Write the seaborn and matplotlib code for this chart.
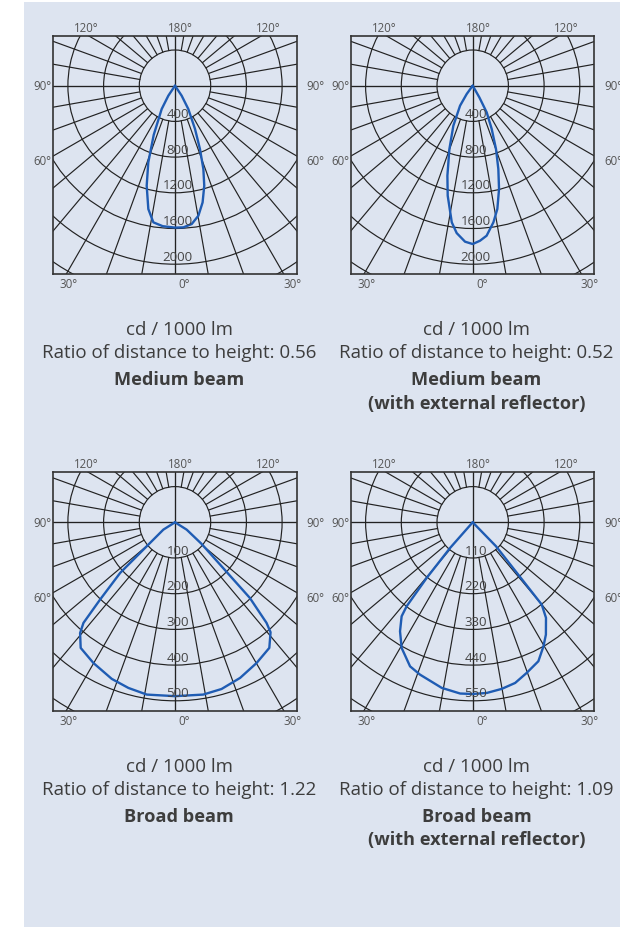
import numpy as np
import pandas as pd
import matplotlib
matplotlib.use("Agg")
import matplotlib.pyplot as plt
import seaborn as sns
from matplotlib.patches import Circle, Rectangle

sns.set_theme(style="white")
plt.rcParams['font.family'] = ['Open Sans', 'DejaVu Sans']

# ---------------- data ----------------
titles = ["Medium beam", "Medium beam\n(with external reflector)",
          "Broad beam", "Broad beam\n(with external reflector)"]
ratios = ["0.56", "0.52", "1.22", "1.09"]
ring_steps = [400, 400, 100, 110]
ring_labels = [["400", "800", "1200", "1600", "2000"],
               ["400", "800", "1200", "1600", "2000"],
               ["100", "200", "300", "400", "500"],
               ["110", "220", "330", "440", "550"]]
unit_label = "cd / 1000 lm"
angle_labels_top = ["120°", "180°", "120°"]
angle_labels_side = ["90°", "60°"]
angle_labels_bottom = ["30°", "0°", "30°"]

# angle from nadir (deg, + to the right) and luminous intensity (cd/1000 lm)
medium_angle = [-36, -33.7, -29.7, -23.4, -19.2, -15.8, -12.2, -9, -5, 0, 3.4, 6.9,
                10.2, 13.3, 16.3, 18.8, 21.5, 24.8, 29.7, 33.7, 36]
medium_cd = [0, 134, 301, 600, 910, 1165, 1414, 1550, 1580, 1590, 1590, 1561,
             1480, 1344, 1168, 986, 763, 535, 301, 134, 0]

medium_refl_angle = [-38, -35.8, -32.3, -25.8, -20.2, -15.7, -12.8, -8.7, -6.2, -2.8, 0,
                     2.7, 5.3, 8.6, 11.3, 14.3, 17.1, 20.2, 23.7, 27.7, 29.7, 32]
medium_refl_cd = [0, 115, 265, 498, 756, 1048, 1264, 1549, 1661, 1750, 1774,
                  1739, 1688, 1549, 1409, 1195, 977, 756, 530, 338, 150, 0]

broad_angle = [-60, -57.8, -49.7, -47.3, -44.1, -42.3, -40.6, -36.9, -30.1, -22, -15.7,
               -9.3, 0, 9.3, 15.6, 22.7, 30.1, 36.9, 41.0, 42.3, 44.7, 50.9, 57.8, 60]
broad_cd = [0, 38.6, 104, 209, 302, 381, 408.5, 440, 455.6, 473, 482,
            489, 487, 489, 484.8, 472.5, 455.6, 440, 408, 381, 298, 96, 38.6, 0]

broad_refl_angle = [-46, -41.4, -39.6, -38.2, -37.1, -33.7, -29.5, -23.5, -19.1, -10.6,
                    -4.2, 0, 4.7, 9.9, 14.8, 19.7, 25.3, 29.7, 33.1, 37.5, 40, 44.2, 46]
broad_refl_cd = [0, 105.5, 222.5, 329, 363, 403.6, 444.7, 484, 496.6, 519,
                 529, 529, 527.6, 521, 512, 493, 473.5, 440, 413, 371, 331, 103, 0]

curves = [(medium_angle, medium_cd), (medium_refl_angle, medium_refl_cd),
          (broad_angle, broad_cd), (broad_refl_angle, broad_refl_cd)]

# ---------------- layout ----------------
W, H = 620, 928
PX = 35.7                     # pixels per ring
fig = plt.figure(figsize=(W / 100, H / 100), dpi=100, facecolor="white")
fig.patches.append(Rectangle((24 / W, 0), 1, 1 - 3 / H, transform=fig.transFigure,
                             facecolor="#dde4f0", edgecolor="none", zorder=-10))

panel_pos = [(53.3, 36.7), (351.0, 36.7), (53.3, 473.3), (351.0, 473.3)]
AW, AH = 243.4, 238.3
GRID = "#222222"
LBL = "#555555"
BLUE = "#1f5cb3"

for i, (lx, ty) in enumerate(panel_pos):
    ax = fig.add_axes([lx / W, 1 - (ty + AH) / H, AW / W, AH / H])
    ax.set_facecolor("none")
    ax.set_xlim(-AW / 2 / PX, AW / 2 / PX)
    ax.set_ylim(-(AH - 50) / PX, 50 / PX)
    ax.set_xticks([])
    ax.set_yticks([])
    for s in ax.spines.values():
        s.set_color("#333333")
        s.set_linewidth(1.2)
        s.set_visible(True)

    # rings
    for k in range(1, 7):
        ax.add_patch(Circle((0, 0), k, fill=False, edgecolor=GRID, linewidth=0.85, zorder=2))
    # radial lines (outside the first ring)
    for a in range(0, 360, 10):
        if a % 90 == 0:
            continue
        t = np.radians(a)
        ax.plot([np.sin(t), 10 * np.sin(t)], [-np.cos(t), -10 * np.cos(t)],
                color=GRID, linewidth=0.85, zorder=2)
    ax.axhline(0, color=GRID, linewidth=0.95, zorder=2)
    ax.axvline(0, color=GRID, linewidth=0.95, zorder=2)

    # curve
    ang, cd = curves[i]
    th = np.radians(np.array(ang, dtype=float))
    r = np.array(cd, dtype=float) / ring_steps[i]
    df = pd.DataFrame({"x": r * np.sin(th), "y": -r * np.cos(th)})
    sns.lineplot(data=df, x="x", y="y", sort=False, estimator=None, ax=ax,
                 color=BLUE, linewidth=1.7, zorder=4)
    ax.set_xlabel("")
    ax.set_ylabel("")

    # ring labels
    for k, lab in enumerate(ring_labels[i], start=1):
        ax.text(0.08, -(k - 0.22), lab, ha="center", va="center", fontsize=9.5,
                color="#444444", zorder=5)

    # angle labels (px offsets from the centre, y down)
    def put(dx, dy, s, ha="center"):
        ax.text(dx / PX, -dy / PX, s, ha=ha, va="center", fontsize=8.3,
                color=LBL, clip_on=False)

    put(-88.3, -58.4, angle_labels_top[0])
    put(5.8, -58.4, angle_labels_top[1])
    put(93.3, -58.4, angle_labels_top[2])
    for dy, s in zip([0, 75], angle_labels_side):
        put(-AW / 2 - 2, dy, s, ha="right")
        put(AW / 2 + 10, dy, s, ha="left")
    put(-106, 198.3, angle_labels_bottom[0])
    put(9, 198.3, angle_labels_bottom[1])
    put(117, 198.3, angle_labels_bottom[2])

# captions
col_x = [179, 476.5, 179, 476.5]
row_y = [330.5, 330.5, 767.5, 767.5]
TXT = "#3d3d3d"
for i in range(4):
    x = col_x[i] / W
    y0 = row_y[i]
    fig.text(x, 1 - y0 / H, unit_label, ha="center", va="center", fontsize=13.5, color=TXT)
    fig.text(x, 1 - (y0 + 23) / H, "Ratio of distance to height: " + ratios[i],
             ha="center", va="center", fontsize=13.5, color=TXT)
    for j, line in enumerate(titles[i].split("\n")):
        fig.text(x, 1 - (y0 + 50 + 23 * j) / H, line, ha="center", va="center",
                 fontsize=13.1, fontweight="bold", color=TXT)

fig.savefig("out.png", dpi=100, facecolor="white")
